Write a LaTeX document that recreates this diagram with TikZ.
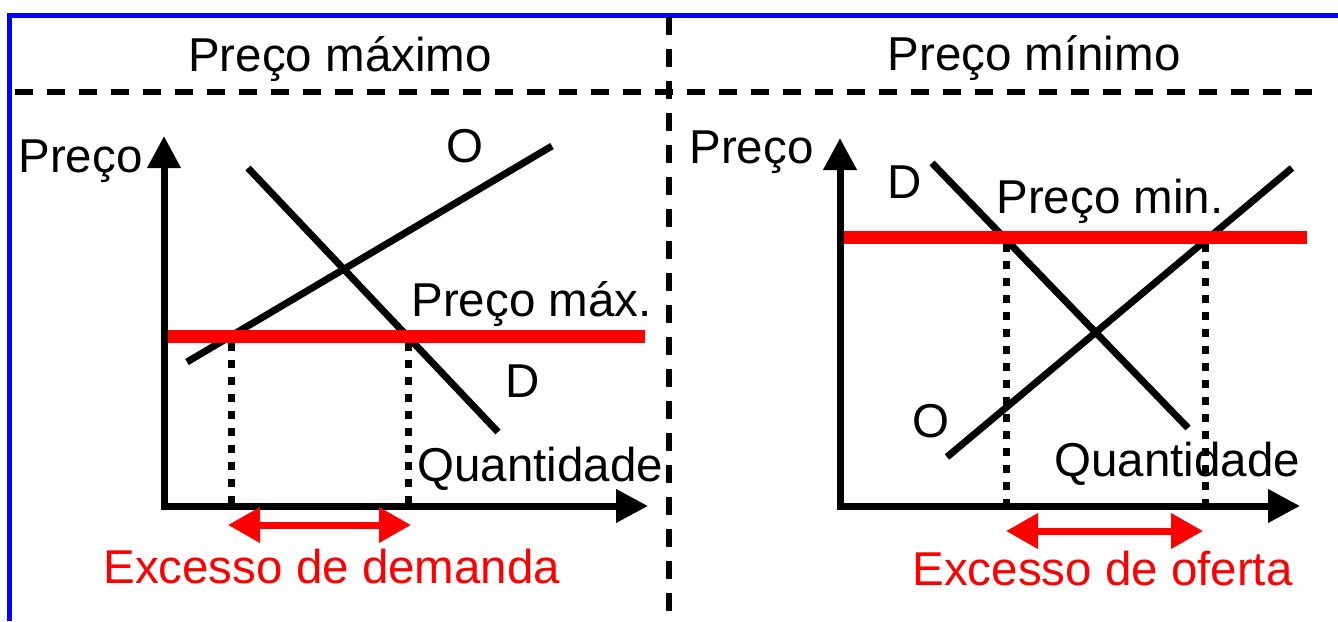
\documentclass[tikz,border=0pt]{standalone}
\usepackage{fontspec}
\setmainfont{Liberation Sans}
\usetikzlibrary{arrows.meta}

\begin{document}
\begin{tikzpicture}[x=0.5pt,y=-0.5pt,line join=miter,
    eixo/.style={line width=3.5pt,{Triangle[length=16pt,width=16pt]}-{Triangle[length=16pt,width=16pt]}},
    curva/.style={line width=3.5pt},
    limite/.style={red,line width=6.5pt},
    guia/.style={line width=3.5pt,dash pattern=on 4pt off 4.5pt},
    excesso/.style={red,line width=3.5pt,{Triangle[length=16pt,width=17pt]}-{Triangle[length=16pt,width=17pt]}},
    divisa/.style={line width=3pt,dash pattern=on 9pt off 7pt},
    txt/.style={font=\fontsize{23.75}{28}\selectfont,inner sep=0pt,anchor=base west}]
  \useasboundingbox (0,0) rectangle (1338,621);
  % moldura e divisorias
  \coordinate (mBase) at (9,621);
  \coordinate (mCanto) at (9,15);
  \coordinate (mFim) at (1338,15);
  \draw[blue,line width=2.5pt] (mBase) -- (mCanto) -- (mFim);
  \coordinate (vTopo) at (669,17);
  \coordinate (vBase) at (669,621);
  \coordinate (hEsq) at (15,92);
  \coordinate (hDir) at (1312,92);
  \draw[divisa] (vTopo) -- (vBase);
  \draw[divisa] (hEsq) -- (hDir);
  \node[txt,anchor=base] (titMax) at (340,71) {Preço máximo};
  \node[txt,anchor=base] (titMin) at (1034,70) {Preço mínimo};

  % preco maximo
  \coordinate (topoL) at (164,136);
  \coordinate (origL) at (164,506);
  \coordinate (fimL) at (648,506);
  \coordinate (oL1) at (187,362);
  \coordinate (oL2) at (552,146);
  \coordinate (dL1) at (248,168);
  \coordinate (dL2) at (498,432);
  \coordinate (pL1) at (166,336);
  \coordinate (pL2) at (645,336);
  \coordinate (qL1) at (231,343);
  \coordinate (qL1b) at (231,506);
  \coordinate (qL2) at (408,343);
  \coordinate (qL2b) at (408,506);
  \coordinate (eL1) at (228,525);
  \coordinate (eL2) at (411,525);
  \draw[guia] (qL1) -- (qL1b);
  \draw[guia] (qL2) -- (qL2b);
  \draw[curva] (oL1) -- (oL2);
  \draw[curva] (dL1) -- (dL2);
  \draw[limite] (pL1) -- (pL2);
  \draw[eixo] (topoL) -- (origL) -- (fimL);
  \draw[excesso] (eL1) -- (eL2);
  \node[txt] (precoL) at (18,172) {Preço};
  \node[txt,anchor=base] (rotOL) at (465,162) {O};
  \node[txt] (rotDL) at (505,397) {D};
  \node[txt] (maxL) at (411,316) {Preço máx.};
  \node[txt] (quantL) at (417,481) {Quantidade};
  \node[txt,red] (excL) at (103,583) {Excesso de demanda};

  % preco minimo
  \coordinate (topoR) at (840,138);
  \coordinate (origR) at (840,506);
  \coordinate (fimR) at (1300,506);
  \coordinate (oR1) at (947,457);
  \coordinate (oR2) at (1292,168);
  \coordinate (dR1) at (932,163);
  \coordinate (dR2) at (1188,428);
  \coordinate (pR1) at (839,237);
  \coordinate (pR2) at (1307,237);
  \coordinate (qR1) at (1006,244);
  \coordinate (qR1b) at (1006,506);
  \coordinate (qR2) at (1205,244);
  \coordinate (qR2b) at (1205,506);
  \coordinate (eR1) at (1006,531);
  \coordinate (eR2) at (1203,531);
  \draw[guia] (qR1) -- (qR1b);
  \draw[guia] (qR2) -- (qR2b);
  \draw[curva] (oR1) -- (oR2);
  \draw[curva] (dR1) -- (dR2);
  \draw[limite] (pR1) -- (pR2);
  \draw[eixo] (topoR) -- (origR) -- (fimR);
  \draw[excesso] (eR1) -- (eR2);
  \node[txt] (precoR) at (689,163) {Preço};
  \node[txt] (rotDR) at (887,198) {D};
  \node[txt] (rotOR) at (912,437) {O};
  \node[txt] (minR) at (996,213) {Preço min.};
  \node[txt] (quantR) at (1054,476) {Quantidade};
  \node[txt,red] (excR) at (912,585) {Excesso de oferta};
\end{tikzpicture}
\end{document}
